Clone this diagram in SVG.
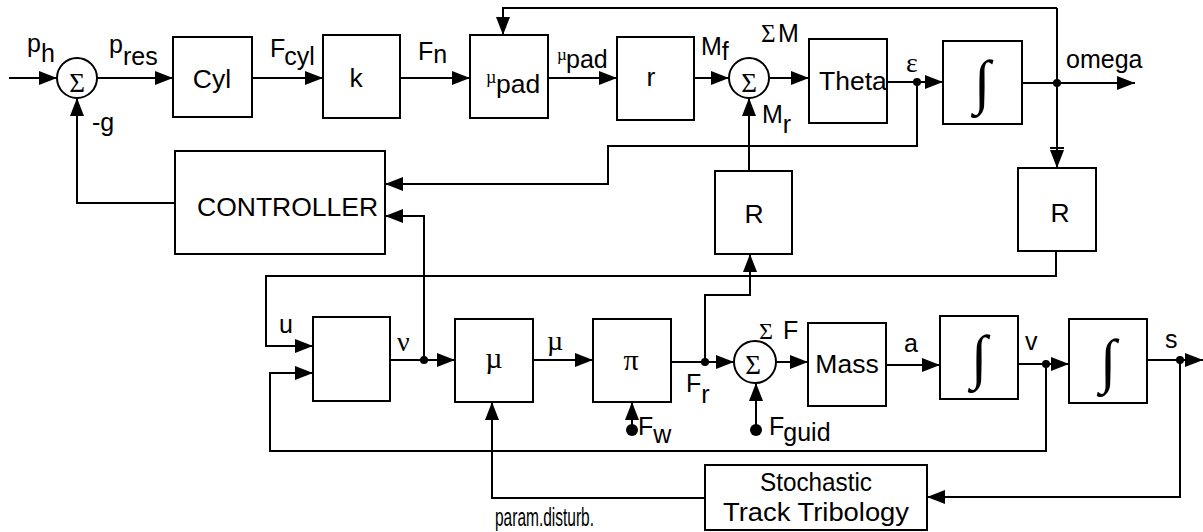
<svg xmlns="http://www.w3.org/2000/svg" width="1203" height="532" viewBox="0 0 1203 532">
<style>
.ln{fill:none;stroke:#000;stroke-width:2}
.bx{fill:#fff;stroke:#000;stroke-width:2}
.t{font-family:"Liberation Sans",Arial,sans-serif;font-size:26.5px;fill:#000}
.l{font-family:"Liberation Sans",Arial,sans-serif;font-size:25px;fill:#000}
.s{font-family:"Liberation Serif","Times New Roman",serif;fill:#000}
.c{text-anchor:middle}
.dot{fill:#000}
</style>
<defs>
<marker id="a" markerUnits="userSpaceOnUse" markerWidth="18" markerHeight="14" refX="18" refY="7" orient="auto"><path d="M0,0L18,7L0,14z"/></marker>
</defs>
<g id="connectors">
<g class="ln" marker-end="url(#a)">
<path d="M9,78H57"/>
<path d="M97,78H173"/>
<path d="M252,78H323"/>
<path d="M400,78H470"/>
<path d="M548,78H617"/>
<path d="M694,78H729"/>
<path d="M770,78H809"/>
<path d="M887,82H943"/>
<path d="M1022,83H1135"/>
<path d="M1057,8H503V35"/>
<path d="M1057,8V168"/>
<path d="M917,82V146H608V184H385"/>
<path d="M175,203H77V98"/>
<path d="M749,171V98"/>
<path d="M1056,251V276H266V346H313"/>
<path d="M1046,364V451H270V373H313"/>
<path d="M390,360H455"/>
<path d="M424,360V216H385"/>
<path d="M533,360H593"/>
<path d="M671,362H734"/>
<path d="M705,362V295H750V254"/>
<path d="M632,430V402"/>
<path d="M756,430V383"/>
<path d="M776,362H808"/>
<path d="M886,365H940"/>
<path d="M1018,364H1069"/>
<path d="M1147,360H1203"/>
<path d="M1180,360V497H927"/>
<path d="M705,498H492V402"/>
</g>
<path class="ln" d="M1050,148H1064"/>
<g class="dot">
<circle cx="917" cy="82" r="4"/>
<circle cx="1057" cy="83" r="4"/>
<circle cx="424" cy="360" r="4"/>
<circle cx="705" cy="362" r="4"/>
<circle cx="1046" cy="364" r="4"/>
<circle cx="1180" cy="360" r="4"/>
<circle cx="632" cy="430" r="6"/>
<circle cx="756" cy="430" r="6"/>
</g>
<g class="l">
<text x="27" y="52">p<tspan dy="10">h</tspan></text>
<text x="109" y="53">p<tspan dy="12">res</tspan></text>
<text x="92" y="131">-g</text>
<text x="270" y="57">F<tspan dy="8" dx="-1">cyl</tspan></text>
<text x="418" y="60">F<tspan dy="3">n</tspan></text>
<text class="s" x="557" y="60" font-size="17">µ</text>
<text x="566" y="68">pad</text>
<text x="701" y="55">M<tspan dy="5">f</tspan></text>
<text x="762" y="123">M<tspan dy="10">r</tspan></text>
<text x="778" y="42">M</text>
<text class="s" x="761" y="42" font-size="25">Σ</text>
<text class="s" x="906" y="72" font-size="28">ε</text>
<text x="1066" y="68">omega</text>
<text x="279" y="333">u</text>
<text class="s" x="397" y="351" font-size="28">ν</text>
<text class="s" x="547" y="350" font-size="28">µ</text>
<text x="638" y="435">F<tspan dy="8">w</tspan></text>
<text x="686" y="392">F<tspan dy="11">r</tspan></text>
<text class="s" x="759" y="339" font-size="24">Σ</text>
<text x="783" y="339">F</text>
<text x="769" y="435">F<tspan dy="6" dx="-1">guid</tspan></text>
<text x="904" y="352">a</text>
<text x="1025" y="350">v</text>
<text x="1165" y="348">s</text>
<text x="495" y="526" font-size="26" textLength="99" lengthAdjust="spacingAndGlyphs">param.disturb.</text>
</g>
</g>
<g id="sum1"><circle class="bx" cx="77" cy="78" r="20"/><text class="s c" x="77" y="92" font-size="27">Σ</text></g>
<g id="cyl"><rect class="bx" x="173" y="37" width="79" height="80"/><text class="t c" x="212" y="88">Cyl</text></g>
<g id="k"><rect class="bx" x="323" y="35" width="77" height="83"/><text class="t c" x="356" y="87">k</text></g>
<g id="mupad"><rect class="bx" x="470" y="35" width="78" height="83"/><text class="s" x="486" y="83" font-size="18">µ</text><text class="t" x="496" y="93">pad</text></g>
<g id="r"><rect class="bx" x="617" y="37" width="77" height="83"/><text class="t c" x="651" y="86">r</text></g>
<g id="sum2"><circle class="bx" cx="749" cy="78" r="20"/><text class="s c" x="749" y="92" font-size="27">Σ</text></g>
<g id="theta"><rect class="bx" x="809" y="39" width="78" height="84"/><text class="t" x="819" y="90">Theta</text></g>
<g id="int1"><rect class="bx" x="943" y="41" width="79" height="83"/><text class="s c" x="982" y="102" font-size="60">∫</text></g>
<g id="controller"><rect class="bx" x="175" y="151" width="210" height="103"/><text class="t" x="197" y="216">CONTROLLER</text></g>
<g id="rmid"><rect class="bx" x="715" y="171" width="77" height="83"/><text class="t c" x="754" y="223">R</text></g>
<g id="rright"><rect class="bx" x="1018" y="168" width="78" height="83"/><text class="t c" x="1060" y="222">R</text></g>
<g id="blank"><rect class="bx" x="313" y="317" width="77" height="84"/></g>
<g id="mu"><rect class="bx" x="455" y="319" width="78" height="83"/><text class="s c" x="494" y="368" font-size="30">µ</text></g>
<g id="pi"><rect class="bx" x="593" y="319" width="78" height="83"/><text class="s c" x="631" y="370" font-size="30">π</text></g>
<g id="sum3"><circle class="bx" cx="755" cy="362" r="21"/><text class="s c" x="753" y="374" font-size="27">Σ</text></g>
<g id="mass"><rect class="bx" x="808" y="323" width="78" height="83"/><text class="t c" x="847" y="373">Mass</text></g>
<g id="int2"><rect class="bx" x="940" y="316" width="78" height="83"/><text class="s c" x="979" y="377" font-size="60">∫</text></g>
<g id="int3"><rect class="bx" x="1069" y="319" width="78" height="84"/><text class="s c" x="1108" y="381" font-size="60">∫</text></g>
<g id="stochastic"><rect class="bx" x="705" y="465" width="222" height="65"/><text class="t c" x="816" y="491" textLength="112" lengthAdjust="spacingAndGlyphs">Stochastic</text><text class="t c" x="816" y="521" textLength="186" lengthAdjust="spacingAndGlyphs">Track Tribology</text></g>
</svg>
